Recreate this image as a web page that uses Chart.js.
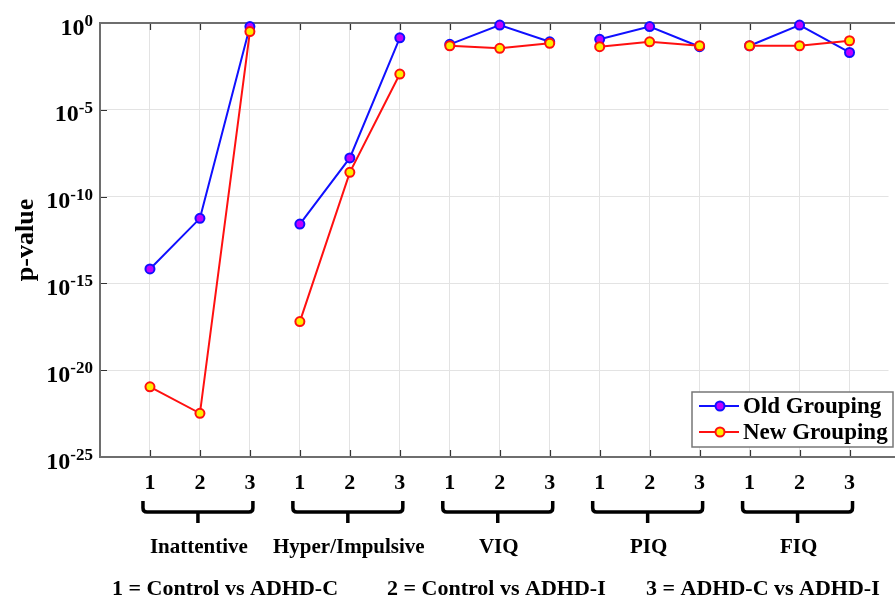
<!DOCTYPE html>
<html>
<head>
<meta charset="utf-8">
<script src="https://cdn.jsdelivr.net/npm/chart.js@4.4.1/dist/chart.umd.min.js"></script>
<style>
  html, body { margin: 0; padding: 0; background: #fff; }
</style>
</head>
<body>
<canvas id="pvalChart" width="895" height="604"></canvas>
<script>
const groups = ['Inattentive', 'Hyper/Impulsive', 'VIQ', 'PIQ', 'FIQ'];
const comparisons = ['1', '2', '3'];
const comparisonNames = ['1 = Control vs ADHD-C', '2 = Control vs ADHD-I', '3 = ADHD-C vs ADHD-I'];

// p-values, three comparisons per group, groups in the order above
const oldGrouping = [
  6.8e-15, 5.6e-12, 0.62,
  2.6e-12, 1.7e-8, 0.14,
  0.059, 0.76, 0.083,
  0.115, 0.62, 0.043,
  0.049, 0.76, 0.020
];
const newGrouping = [
  1.1e-21, 3.3e-23, 0.32,
  6.3e-18, 2.5e-9, 1.15e-3,
  0.049, 0.035, 0.068,
  0.043, 0.083, 0.049,
  0.049, 0.049, 0.095
];
const yTickExponents = [0, -5, -10, -15, -20, -25];

const serif = '"Liberation Serif", "Times New Roman", serif';

function toPoints(values) {
  return values.map((v, i) => ({ x: i + 1, y: v }));
}

// no segment between the last comparison of one group and the first of the next
function groupSegment(color) {
  return {
    borderColor: ctx => (ctx.p0DataIndex % 3 === 2 ? 'rgba(0,0,0,0)' : color)
  };
}

const series = [
  { label: 'Old Grouping', data: oldGrouping, line: '#1010ff', fill: '#c000ff', order: 2 },
  { label: 'New Grouping', data: newGrouping, line: '#ff1010', fill: '#ffee00', order: 1 }
];

const matlabAxes = {
  id: 'matlabAxes',
  beforeDatasetsDraw(chart) {
    const { ctx, chartArea: a, scales: { x, y } } = chart;
    ctx.save();
    // inward tick marks
    ctx.strokeStyle = '#333';
    ctx.lineWidth = 1.2;
    ctx.beginPath();
    x.ticks.forEach(t => {
      const px = Math.round(x.getPixelForValue(t.value)) + 0.5;
      ctx.moveTo(px, a.bottom); ctx.lineTo(px, a.bottom - 7);
      ctx.moveTo(px, a.top); ctx.lineTo(px, a.top + 7);
    });
    y.ticks.forEach(t => {
      const py = Math.round(y.getPixelForValue(t.value)) + 0.5;
      ctx.moveTo(a.left, py); ctx.lineTo(a.left + 7, py);
    });
    ctx.stroke();
    // box, open on the right where it runs off the canvas
    ctx.strokeStyle = '#6e6e6e';
    ctx.lineWidth = 2;
    ctx.beginPath();
    ctx.moveTo(chart.width, a.top);
    ctx.lineTo(a.left, a.top);
    ctx.lineTo(a.left, a.bottom);
    ctx.lineTo(chart.width, a.bottom);
    ctx.stroke();
    ctx.restore();
  },
  afterDraw(chart) {
    const { ctx, chartArea: a, scales: { x, y } } = chart;
    ctx.save();
    ctx.fillStyle = '#000';

    // y tick labels as 10 with a raised exponent
    ctx.textAlign = 'right';
    ctx.textBaseline = 'alphabetic';
    yTickExponents.forEach(e => {
      const py = y.getPixelForValue(Math.pow(10, e));
      const sup = String(e);
      ctx.font = 'bold 17px ' + serif;
      const supW = ctx.measureText(sup).width;
      ctx.fillText(sup, 93, py + 3);
      ctx.font = 'bold 24px ' + serif;
      ctx.fillText('10', 93 - supW, py + 11.5);
    });

    // y axis title
    ctx.save();
    ctx.translate(33, 240);
    ctx.rotate(-Math.PI / 2);
    ctx.textAlign = 'center';
    ctx.font = 'bold 26px ' + serif;
    ctx.fillText('p-value', 0, 0);
    ctx.restore();

    // braces and group names under the tick labels
    ctx.strokeStyle = '#000';
    ctx.lineWidth = 3.5;
    ctx.lineCap = 'butt';
    ctx.font = 'bold 21px ' + serif;
    ctx.textAlign = 'center';
    groups.forEach((name, g) => {
      const x1 = x.getPixelForValue(3 * g + 1) - 7;
      const x2 = x.getPixelForValue(3 * g + 3) + 3;
      const xc = (x1 + x2) / 2;
      const yTop = 501, yBar = 512, yStem = 523;
      ctx.beginPath();
      ctx.moveTo(x1, yTop);
      ctx.lineTo(x1, yBar - 4);
      ctx.quadraticCurveTo(x1, yBar, x1 + 4, yBar);
      ctx.lineTo(x2 - 4, yBar);
      ctx.quadraticCurveTo(x2, yBar, x2, yBar - 4);
      ctx.lineTo(x2, yTop);
      ctx.moveTo(xc, yBar);
      ctx.lineTo(xc, yStem);
      ctx.stroke();
      ctx.fillText(name, xc + 1, 553);
    });

    // comparison key
    ctx.font = 'bold 22px ' + serif;
    ctx.textAlign = 'left';
    [112, 387, 646].forEach((left, i) => ctx.fillText(comparisonNames[i], left, 595));

    // legend box inside the axes
    const box = { left: 692, top: 392, right: 893, bottom: 447 };
    ctx.fillStyle = '#fff';
    ctx.fillRect(box.left, box.top, box.right - box.left, box.bottom - box.top);
    ctx.strokeStyle = '#777';
    ctx.lineWidth = 1.5;
    ctx.strokeRect(box.left, box.top, box.right - box.left, box.bottom - box.top);
    ctx.textBaseline = 'middle';
    ctx.font = 'bold 23px ' + serif;
    series.forEach((s, i) => {
      const ry = 406 + i * 26;
      ctx.strokeStyle = s.line;
      ctx.lineWidth = 2;
      ctx.beginPath();
      ctx.moveTo(699, ry); ctx.lineTo(739, ry);
      ctx.stroke();
      ctx.beginPath();
      ctx.arc(720, ry, 4.5, 0, Math.PI * 2);
      ctx.fillStyle = s.fill;
      ctx.fill();
      ctx.stroke();
      ctx.fillStyle = '#000';
      ctx.fillText(s.label, 743, ry + 1);
    });
    ctx.restore();
  }
};

new Chart(document.getElementById('pvalChart'), {
  type: 'line',
  data: {
    datasets: series.map(s => ({
      label: s.label,
      data: toPoints(s.data),
      order: s.order,
      borderColor: s.line,
      borderWidth: 2,
      pointRadius: 4.5,
      pointBorderWidth: 2,
      pointBackgroundColor: s.fill,
      pointBorderColor: s.line,
      segment: groupSegment(s.line),
      tension: 0,
      clip: false
    }))
  },
  options: {
    responsive: false,
    devicePixelRatio: 1,
    animation: false,
    layout: { padding: { top: 23, left: 0, right: 0, bottom: 0 } },
    plugins: {
      legend: { display: false },
      tooltip: { enabled: false }
    },
    scales: {
      x: {
        type: 'linear',
        min: 0,
        max: 15.78,
        afterBuildTicks: s => {
          s.ticks = oldGrouping.map((_, i) => ({ value: i + 1 }));
        },
        afterFit: s => { s.height = 147; },
        grid: { color: '#e3e3e3', lineWidth: 1, drawTicks: false },
        border: { display: false },
        ticks: {
          autoSkip: false,
          maxRotation: 0,
          padding: 13,
          color: '#000',
          font: { family: serif, size: 22, weight: 'bold' },
          callback: v => comparisons[(v - 1) % 3]
        }
      },
      y: {
        type: 'logarithmic',
        min: 1e-25,
        max: 1,
        afterBuildTicks: s => {
          s.ticks = yTickExponents.map(e => ({ value: Math.pow(10, e) }));
        },
        afterFit: s => { s.width = 100; },
        grid: { color: '#e3e3e3', lineWidth: 1, drawTicks: false },
        border: { display: false },
        ticks: { display: false }
      }
    }
  },
  plugins: [matlabAxes]
});
</script>
</body>
</html>
